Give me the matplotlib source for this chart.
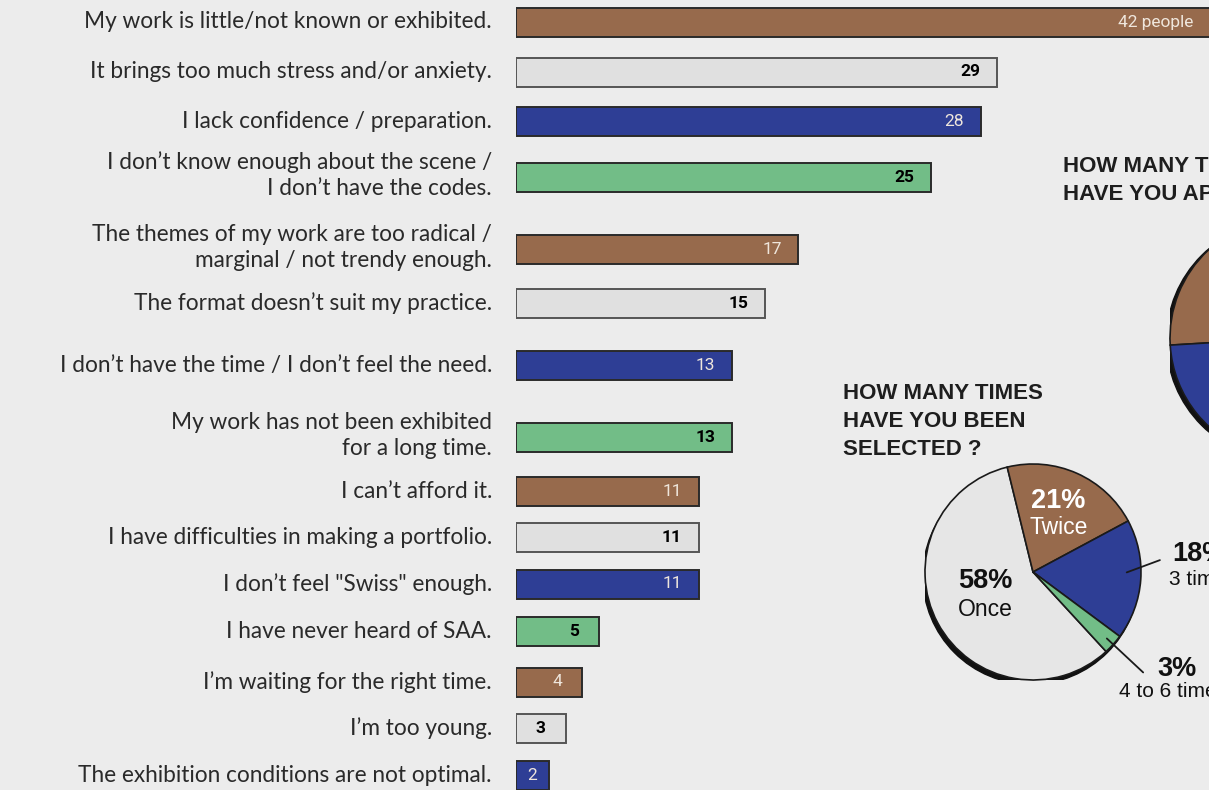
import numpy as np
import matplotlib.pyplot as plt
from matplotlib.patches import Circle

# Reasons for not applying (number of people)
reasons = [
    "My work is little/not known or exhibited.",
    "It brings too much stress and/or anxiety.",
    "I lack confidence / preparation.",
    "I don\u2019t know enough about the scene /\nI don\u2019t have the codes.",
    "The themes of my work are too radical /\nmarginal / not trendy enough.",
    "The format doesn\u2019t suit my practice.",
    "I don\u2019t have the time / I don\u2019t feel the need.",
    "My work has not been exhibited\nfor a long time.",
    "I can\u2019t afford it.",
    "I have difficulties in making a portfolio.",
    "I don\u2019t feel \"Swiss\" enough.",
    "I have never heard of SAA.",
    "I\u2019m waiting for the right time.",
    "I\u2019m too young.",
    "The exhibition conditions are not optimal.",
]
counts = [42, 29, 28, 25, 17, 15, 13, 13, 11, 11, 11, 5, 4, 3, 2]

# Selected pie
sel_labels = ["Once", "Twice", "3 times", "4 to 6 times"]
sel_values = [58, 21, 18, 3]

# Applied pie (only its left part is in view)
app_labels = ["Once", "Twice", "3 times", "4 times or more"]
app_values = [45, 28, 20, 7]

# colours
BG = "#ececec"
BROWN = "#976a4c"
GREY = "#e0e0e0"
BLUE = "#2e3e95"
GREEN = "#72bd87"
cycle = [BROWN, GREY, BLUE, GREEN]

W, H = 1209, 790
PX_PER_UNIT = 16.6
BAR_LEFT = 516
# vertical centre of each row, in pixels from the top
row_y = [22, 72, 121.5, 177.5, 249.5, 303.5, 365.5, 437.5, 491.5, 537,
         584, 631.5, 682, 728.5, 775.5]

plt.rcParams['font.family'] = ['Lato', 'DejaVu Sans']

fig = plt.figure(figsize=(W / 100, H / 100), dpi=100, facecolor=BG)

# ---- bar chart ----
ax = fig.add_axes([BAR_LEFT / W, 0, 1 - BAR_LEFT / W, 1])
ax.set_xlim(0, (W - BAR_LEFT) / PX_PER_UNIT)
ax.set_ylim(H, 0)
ax.axis('off')

bar_colors = [cycle[i % 4] for i in range(len(counts))]
edge_colors = ["#555555" if c == GREY else "#2a2a2a" for c in bar_colors]
ax.barh(row_y, counts, height=29, color=bar_colors, edgecolor=edge_colors,
        linewidth=1.4)

for i, (lab, v, y, c) in enumerate(zip(reasons, counts, row_y, bar_colors)):
    dy = -2 if "\n" in lab else 0
    ax.text(-24 / PX_PER_UNIT, y + dy, lab, ha='right', va='center',
            multialignment='right', fontsize=16.3, color='#2a2a2a',
            linespacing=1.3, clip_on=False)
    dark = c in (GREY, GREEN)
    txt = f"{v} people" if i == 0 else str(v)
    kw = dict(va='center', fontsize=12.5, family=['Roboto', 'DejaVu Sans'],
              color='black' if dark else '#efe6dc',
              fontweight='bold' if dark else 'normal')
    if v >= 10:
        ax.text(v - 1.0 - (0.2 if i == 0 else 0), y, txt, ha='right', **kw)
    else:
        ax.text(max(v - 1.5, v / 2), y, txt, ha='center', **kw)


def pie_axes(cx, cy, r):
    return fig.add_axes([(cx - r) / W, (H - cy - r) / H, 2 * r / W, 2 * r / H])


def mid(w):
    return np.deg2rad((w.theta1 + w.theta2) / 2)


# ---- "selected" pie ----
axp = pie_axes(1033, 572, 108)
axp.add_patch(Circle((-0.02, -0.04), 1.0, color='#111111', zorder=0))
wedges, _ = axp.pie(sel_values, colors=["#e6e6e6", BROWN, BLUE, GREEN],
                    startangle=103.8 + 360 * sel_values[0] / 100,
                    counterclock=False,
                    wedgeprops=dict(edgecolor='#1a1a1a', linewidth=1.2))
axp.set_xlim(-1, 1)
axp.set_ylim(-1, 1)

# inside labels
for w, v, lab, col, r, up, down in [
        (wedges[0], sel_values[0], sel_labels[0], '#111111', 0.5, 0.15, -0.11),
        (wedges[1], sel_values[1], sel_labels[1], 'white', 0.58, 0.13, -0.12)]:
    a = mid(w)
    x, y = r * np.cos(a), r * np.sin(a)
    axp.text(x, y + up, f"{v}%", ha='center', va='center', fontsize=19.5,
             fontweight='bold', color=col, family=['Liberation Sans'])
    axp.text(x, y + down, lab, ha='center', va='center', fontsize=16.5,
             color=col, family=['Liberation Sans'])

# outside labels with leader lines
for w, v, lab, tip, pct_xy, lab_xy in [
        (wedges[2], sel_values[2], sel_labels[2], (1.175, 0.11), (1.29, 0.17), (1.26, -0.07)),
        (wedges[3], sel_values[3], sel_labels[3], (1.02, -0.93), (1.15, -0.90), (0.80, -1.11))]:
    a = mid(w)
    rr = 0.87 if v > 10 else 0.92
    axp.annotate("", xy=(rr * np.cos(a), rr * np.sin(a) + (0.06 if v > 10 else 0)),
                 xytext=tip,
                 arrowprops=dict(arrowstyle='-', color='#1a1a1a', lw=1.3,
                                 shrinkA=0, shrinkB=0),
                 annotation_clip=False)
    axp.text(*pct_xy, f"{v}%", ha='left', va='center', fontsize=19.5,
             fontweight='bold', color='#111111', family=['Liberation Sans'],
             clip_on=False)
    axp.text(*lab_xy, lab, ha='left', va='center', fontsize=15,
             color='#111111', family=['Liberation Sans'], clip_on=False)

fig.text(843 / W, 1 - 383 / H, "HOW MANY TIMES\nHAVE YOU BEEN\nSELECTED ?",
         ha='left', va='top', fontsize=16, fontweight='bold',
         color='#1e1e1e', linespacing=1.45, family=['Liberation Sans'])

# ---- "applied" pie ----
axa = pie_axes(1290, 338, 120)
axa.add_patch(Circle((-0.03, -0.02), 1.0, color='#111111', zorder=0))
axa.pie(app_values, colors=["#e6e6e6", BROWN, BLUE, GREEN],
        startangle=183.4 - 360 * (app_values[0] + app_values[1]) / 100,
        counterclock=True,
        wedgeprops=dict(edgecolor='#1a1a1a', linewidth=1.2))
axa.set_xlim(-1, 1)
axa.set_ylim(-1, 1)

fig.text(1063 / W, 1 - 156 / H, "HOW MANY TIMES\nHAVE YOU APPLIED ?",
         ha='left', va='top', fontsize=16, fontweight='bold',
         color='#1e1e1e', linespacing=1.45, family=['Liberation Sans'])

fig.savefig("out.png", dpi=100, facecolor=BG)
